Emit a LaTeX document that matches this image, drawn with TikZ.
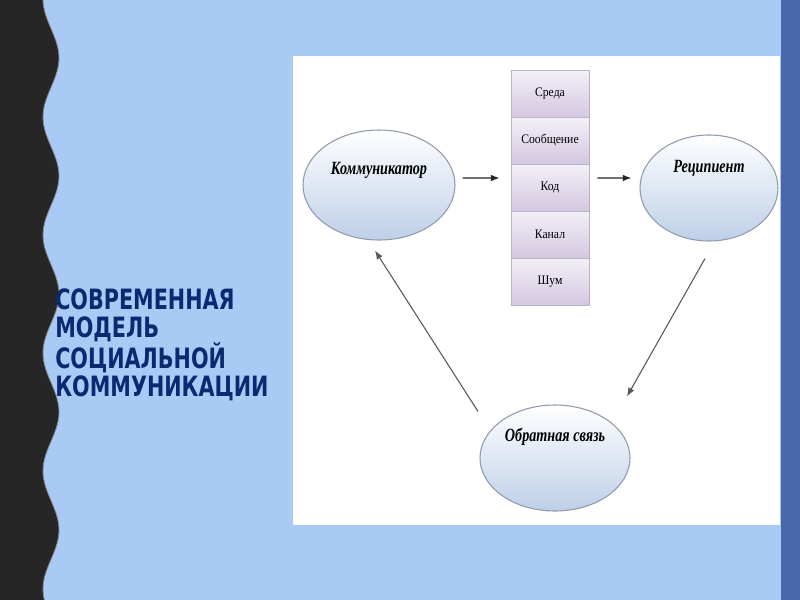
\documentclass[tikz,border=0pt]{standalone}
\usepackage{fontspec}
\setmainfont{Liberation Serif}
\newfontfamily\titlefont{DejaVu Sans}
\usetikzlibrary{shapes.geometric,arrows.meta}
\definecolor{bgblue}{RGB}{170,202,246}
\definecolor{darkstrip}{RGB}{38,38,38}
\definecolor{rightstrip}{RGB}{74,102,172}
\definecolor{titleblue}{RGB}{11,41,112}
\definecolor{lavtop}{RGB}{243,240,247}
\definecolor{lavbot}{RGB}{212,199,225}
\definecolor{lavedge}{RGB}{185,178,200}
\definecolor{elltop}{RGB}{255,255,255}
\definecolor{ellbot}{RGB}{190,207,232}
\definecolor{elledge}{RGB}{145,155,172}
\begin{document}
\begin{tikzpicture}[x=0.75pt,y=-0.75pt,
  stackbox/.style={rectangle, draw=lavedge, line width=0.6pt, top color=lavtop, bottom color=lavbot,
     minimum width=58.5pt, minimum height=35.25pt, inner sep=0pt,
     font=\fontsize{9.75pt}{11pt}\selectfont},
  ellbox/.style={ellipse, draw=elledge, line width=0.8pt, top color=elltop, bottom color=ellbot, inner sep=0pt},
  elltext/.style={inner sep=0pt, font=\fontsize{14pt}{16pt}\selectfont\bfseries\itshape},
  arr/.style={draw=black!85, line width=1pt, -{Latex[length=6.5pt,width=5pt]}},
  darr/.style={draw=black!65, line width=0.8pt, -{Latex[length=6.5pt,width=5pt]}},
  titletext/.style={inner sep=0pt, anchor=north west, align=left, text=titleblue,
     font=\titlefont\bfseries\fontsize{21pt}{21pt}\selectfont}
]
\useasboundingbox (0,0) rectangle (800,600);
\fill[bgblue] (0,0) rectangle (800,600);
\fill[darkstrip] (0,0) -- plot[domain=0:600,samples=240] ({51+8*cos((\x-58)*3.0508)},\x) -- (0,600) -- cycle;
\draw[black!45, line width=0.6pt] plot[domain=0:600,samples=240] ({51+8*cos((\x-58)*3.0508)},\x);
\fill[rightstrip] (781,0) rectangle (800,600);
\fill[white] (293,56) rectangle (780,525);

\node[titletext] (title) at (55,288) {\scalebox{0.74}[1]{СОВРЕМЕННАЯ}\\\scalebox{0.74}[1]{МОДЕЛЬ}\\\scalebox{0.74}[1]{СОЦИАЛЬНОЙ}\\\scalebox{0.74}[1]{КОММУНИКАЦИИ}};

\node[stackbox] (s1) at (550,93.5) {\scalebox{0.9}[1]{Среда}};
\node[stackbox] (s2) at (550,140.5) {\scalebox{0.9}[1]{Сообщение}};
\node[stackbox] (s3) at (550,187.5) {\scalebox{0.9}[1]{Код}};
\node[stackbox] (s4) at (550,234.5) {\scalebox{0.9}[1]{Канал}};
\node[stackbox] (s5) at (550,281.5) {\scalebox{0.9}[1]{Шум}};

\node[ellbox, minimum width=114pt, minimum height=82.5pt] (komm) at (379,185) {};
\node[ellbox, minimum width=103.5pt, minimum height=79.5pt] (rec) at (709,188) {};
\node[ellbox, minimum width=112.5pt, minimum height=79.5pt] (fb) at (555,458) {};

\node[elltext] (kommt) at ([yshift=11.25pt]komm.center) {\scalebox{0.76}[1]{Коммуникатор}};
\node[elltext] (rect) at ([yshift=15pt]rec.center) {\scalebox{0.76}[1]{Реципиент}};
\node[elltext] (fbt) at ([yshift=15.75pt]fb.center) {\scalebox{0.76}[1]{Обратная связь}};

\draw[arr] ([xshift=5.25pt,yshift=5.25pt]komm.east) -- ([xshift=-8.25pt,yshift=7.1pt]s3.west);
\draw[arr] ([xshift=6pt,yshift=7.1pt]s3.east) -- ([xshift=-6pt,yshift=7.5pt]rec.west);
\draw[darr] ([xshift=-3pt,yshift=-12.75pt]rec.south) -- ([xshift=54pt,yshift=6pt]fb.north);
\draw[darr] ([xshift=-57.75pt,yshift=-5.25pt]fb.north) -- ([xshift=-3pt,yshift=-7.5pt]komm.south);
\end{tikzpicture}
\end{document}
